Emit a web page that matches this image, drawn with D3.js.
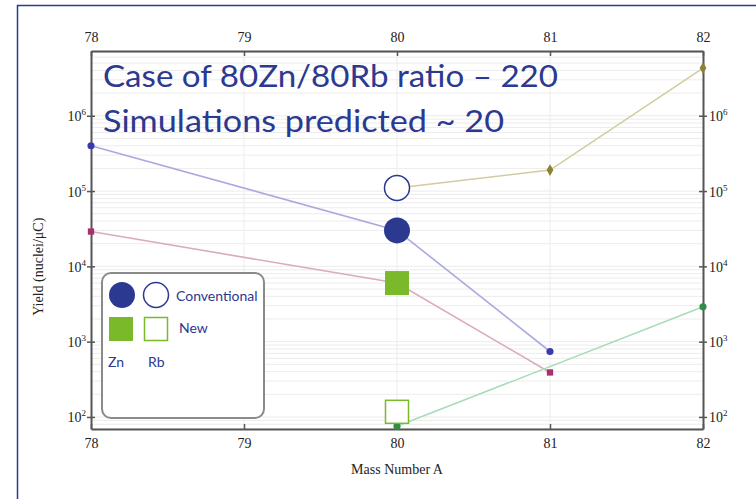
<!DOCTYPE html>
<html>
<head>
<meta charset="utf-8">
<script src="https://cdn.jsdelivr.net/npm/d3@7"></script>
<style>
  body { margin: 0; background: #fff; }
  svg { display: block; }
</style>
</head>
<body>
<div id="chart"></div>
<script>
// mass numbers and yields (nuclei/uC)
var massTicks = [78, 79, 80, 81, 82];
var decades = [2, 3, 4, 5, 6];

var znConvA = [78, 80, 81];
var znConvY = [4.0e5, 3.0e4, 740];
var znNewA = [78, 80, 81];
var znNewY = [2.9e4, 6.0e3, 390];
var rbConvA = [80, 81, 82];
var rbConvY = [1.1e5, 1.9e5, 4.3e6];
var rbNewA = [80, 82];
var rbNewY = [75, 2900];

// the highlighted measurements at A = 80
var bigA = [80, 80, 80, 80];
var bigY = [3.0e4, 1.1e5, 6.0e3, 117];
var bigKind = ["fullCircle", "openCircle", "fullSquare", "openSquare"];

var W = 756, H = 499;
var m = {left: 91, right: 53, top: 51, bottom: 70};
var navy = "#2b3990", green = "#7ab929";

var svg = d3.select("#chart").append("svg")
  .attr("width", W).attr("height", H);

// slide frame
svg.append("path")
  .attr("d", "M17.5," + H + "V5.5H" + W)
  .attr("fill", "none").attr("stroke", navy).attr("stroke-width", 1.5);

var x = d3.scaleLinear().domain([78, 82]).range([m.left, W - m.right]);
var y = d3.scaleLog().domain([Math.pow(10, 1.84), Math.pow(10, 6.86)]).range([H - m.bottom, m.top]);

// faint grid
var minor = [];
for (var e = 1; e <= 6; e++) for (var k = 1; k <= 9; k++) {
  var v = k * Math.pow(10, e);
  if (v >= y.domain()[0] && v <= y.domain()[1]) minor.push(v);
}
svg.append("g").selectAll("line").data(minor).enter().append("line")
  .attr("x1", x(78)).attr("x2", x(82))
  .attr("y1", function(d) { return y(d); }).attr("y2", function(d) { return y(d); })
  .attr("stroke", "#ececec").attr("stroke-width", 1);
svg.append("g").selectAll("line").data(massTicks.slice(1, 4)).enter().append("line")
  .attr("x1", function(d) { return x(d); }).attr("x2", function(d) { return x(d); })
  .attr("y1", y.range()[1]).attr("y2", y.range()[0])
  .attr("stroke", "#ececec").attr("stroke-width", 1);

// axes
var serif = "Liberation Serif, Times New Roman, serif";
var decTicks = decades.map(function(d) { return Math.pow(10, d); });

var gB = svg.append("g").attr("transform", "translate(0," + y.range()[0] + ")")
  .call(d3.axisBottom(x).tickValues(massTicks).tickSizeInner(-5).tickSizeOuter(0).tickPadding(9).tickFormat(d3.format("d")));
var gT = svg.append("g").attr("transform", "translate(0," + y.range()[1] + ")")
  .call(d3.axisTop(x).tickValues(massTicks).tickSizeInner(-5).tickSizeOuter(0).tickPadding(9).tickFormat(d3.format("d")));
var gL = svg.append("g").attr("transform", "translate(" + x(78) + ",0)")
  .call(d3.axisLeft(y).tickValues(decTicks).tickSize(4).tickSizeOuter(0).tickPadding(3).tickFormat(""));
var gR = svg.append("g").attr("transform", "translate(" + x(82) + ",0)")
  .call(d3.axisRight(y).tickValues(decTicks).tickSize(4).tickSizeOuter(0).tickPadding(3).tickFormat(""));

[gB, gT, gL, gR].forEach(function(g) {
  g.select(".domain").attr("stroke", "#555").attr("stroke-width", 2);
  g.selectAll(".tick line").attr("stroke", "#555").attr("stroke-width", 1.5);
  g.selectAll(".tick text").attr("font-family", serif).attr("font-size", 14).attr("fill", "#222");
});
// inner half of y ticks
[[gL, 1], [gR, -1]].forEach(function(p) {
  p[0].selectAll(".tick").append("line").attr("x2", 4 * p[1]).attr("stroke", "#555").attr("stroke-width", 1.5);
});

function powLabel(g, anchor, dx) {
  g.selectAll(".tick").each(function(d) {
    var t = d3.select(this).append("text")
      .attr("x", dx).attr("y", 5).attr("text-anchor", anchor)
      .attr("font-family", serif).attr("font-size", 14).attr("fill", "#222");
    t.append("tspan").text("10");
    t.append("tspan").attr("dy", -6).attr("font-size", 9).text(Math.round(Math.log10(d)));
  });
}
powLabel(gL, "end", -5);
powLabel(gR, "start", 6);

svg.append("text")
  .attr("x", (x(78) + x(82)) / 2).attr("y", 474).attr("text-anchor", "middle")
  .attr("font-family", serif).attr("font-size", 14).attr("fill", "#222")
  .text("Mass Number A");
svg.append("text")
  .attr("transform", "translate(43," + y(3e3 * 3.3) + ") rotate(-90)")
  .attr("text-anchor", "middle")
  .attr("font-family", serif).attr("font-size", 14).attr("fill", "#222")
  .text("Yield (nuclei/\u03bcC)");

// series lines and small markers
var series = [
  {a: znConvA, v: znConvY, line: "#a9a9e0", mark: "#3a3ab0", shape: d3.symbolCircle},
  {a: znNewA, v: znNewY, line: "#dcaac0", mark: "#a8306e", shape: d3.symbolSquare},
  {a: rbConvA, v: rbConvY, line: "#d2cc9e", mark: "#8c8236", shape: d3.symbolDiamond},
  {a: rbNewA, v: rbNewY, line: "#a8dcb8", mark: "#2f8f45", shape: d3.symbolCircle}
];
var line = d3.line()
  .x(function(d) { return x(d[0]); })
  .y(function(d) { return y(d[1]); });

series.forEach(function(s) {
  var pts = d3.zip(s.a, s.v);
  svg.append("path").datum(pts)
    .attr("d", line).attr("fill", "none")
    .attr("stroke", s.line).attr("stroke-width", 1.6);
  svg.append("g").selectAll("path").data(pts).enter().append("path")
    .attr("transform", function(d) { return "translate(" + x(d[0]) + "," + y(d[1]) + ")"; })
    .attr("d", d3.symbol().type(s.shape).size(40))
    .attr("fill", s.mark);
});

// big highlighted markers
function drawBig(sel, kind) {
  if (kind == "fullCircle") sel.append("circle").attr("r", 13).attr("fill", navy);
  if (kind == "openCircle") sel.append("circle").attr("r", 12.5).attr("fill", "#fff").attr("stroke", navy).attr("stroke-width", 1.5);
  if (kind == "fullSquare") sel.append("rect").attr("x", -12).attr("y", -12).attr("width", 24).attr("height", 24).attr("fill", green);
  if (kind == "openSquare") sel.append("rect").attr("x", -11.5).attr("y", -11.5).attr("width", 23).attr("height", 23).attr("fill", "#fff").attr("stroke", green).attr("stroke-width", 1.5);
}
d3.range(bigA.length).forEach(function(i) {
  var g = svg.append("g").attr("transform", "translate(" + x(bigA[i]) + "," + y(bigY[i]) + ")");
  drawBig(g, bigKind[i]);
});

// title overlay
var sans = "Lato, Open Sans, sans-serif";
svg.append("text").attr("x", 103).attr("y", 87)
  .attr("font-family", sans).attr("font-size", 30).attr("fill", navy)
  .attr("textLength", 455).attr("lengthAdjust", "spacingAndGlyphs")
  .text("Case of 80Zn/80Rb ratio \u2013 220");
svg.append("text").attr("x", 103).attr("y", 132)
  .attr("font-family", sans).attr("font-size", 30).attr("fill", navy)
  .attr("textLength", 401).attr("lengthAdjust", "spacingAndGlyphs")
  .text("Simulations predicted ~ 20");

// legend
var lg = svg.append("g").attr("transform", "translate(102,273)");
lg.append("rect").attr("width", 162).attr("height", 145).attr("rx", 9)
  .attr("fill", "#fff").attr("stroke", "#8a8a8a").attr("stroke-width", 2);
drawBig(lg.append("g").attr("transform", "translate(20,22)"), "fullCircle");
drawBig(lg.append("g").attr("transform", "translate(54,22)"), "openCircle");
drawBig(lg.append("g").attr("transform", "translate(19,56)"), "fullSquare");
drawBig(lg.append("g").attr("transform", "translate(54,56)"), "openSquare");
var legText = [["Conventional", 74, 28], ["New", 77, 60], ["Zn", 6, 94], ["Rb", 46, 94]];
lg.selectAll("text.l").data(legText).enter().append("text")
  .attr("x", function(d) { return d[1]; }).attr("y", function(d) { return d[2]; })
  .attr("font-family", sans).attr("font-size", 14).attr("fill", navy)
  .text(function(d) { return d[0]; });
</script>
</body>
</html>
